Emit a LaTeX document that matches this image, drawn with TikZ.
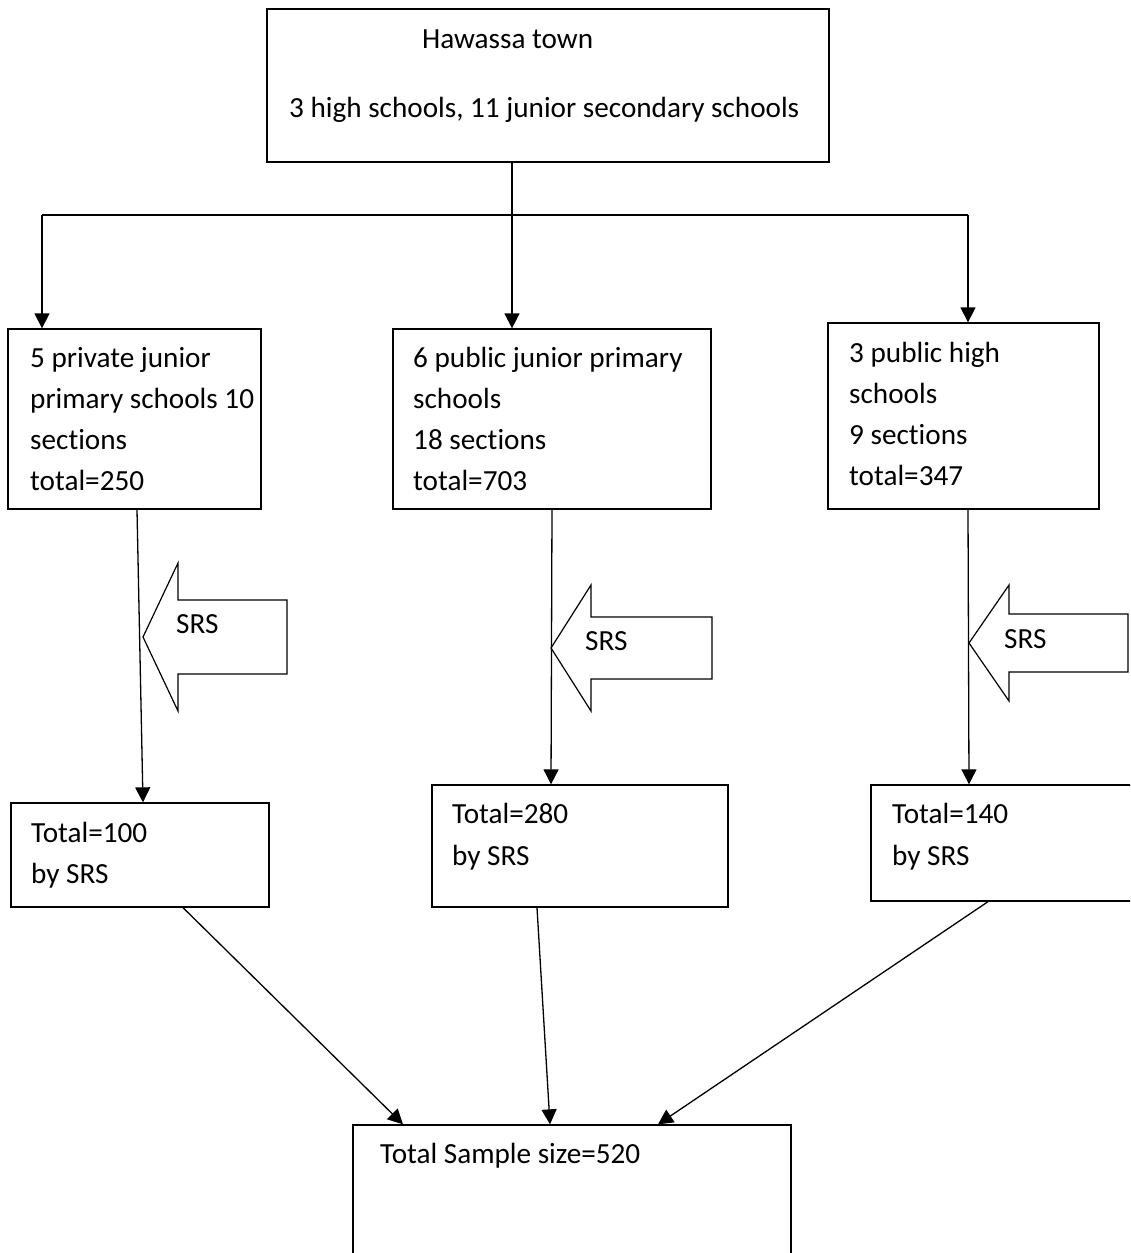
\documentclass[tikz,border=0pt]{standalone}
\usepackage{fontspec}
\setmainfont{Carlito}[Ligatures={NoCommon}]
\usetikzlibrary{arrows.meta}
\begin{document}
\begin{tikzpicture}[x=1pt,y=-1pt,
  box/.style={draw,line width=1.3pt,inner sep=0pt},
  txt/.style={anchor=base west,inner sep=0pt,font=\fontsize{29.2}{34}\selectfont},
  arr/.style={line width=1.3pt,-{Triangle[length=15pt,width=15pt]}},
  con/.style={line width=1.3pt},
  srs/.style={draw,line width=1.2pt,line join=miter}]
\useasboundingbox (0,0) rectangle (1130,1253);
\fill[white] (0,0) rectangle (1130,1253);
\clip (0,0) rectangle (1130,1253);

% boxes
\node[box,minimum width=562pt,minimum height=153pt] (T) at (548,85.5) {};
\node[box,minimum width=253pt,minimum height=180pt] (A) at (134.5,419) {};
\node[box,minimum width=318pt,minimum height=180pt] (B) at (552,419) {};
\node[box,minimum width=271pt,minimum height=186pt] (C) at (963.5,416) {};
\node[box,minimum width=258pt,minimum height=104pt] (A2) at (140,855) {};
\node[box,minimum width=296pt,minimum height=122pt] (B2) at (580,846) {};
\node[box,minimum width=279pt,minimum height=116pt] (C2) at (1010.5,843) {};
\node[box,minimum width=438pt,minimum height=165pt] (S) at (572,1207.5) {};

% texts
\node[txt] (t1) at (422,48) {Hawassa town};
\node[txt] (t2) at (289,117) {3 high schools, 11 junior secondary schools};

\node[txt] (a1) at (30,367) {5 private junior};
\node[txt] (a2) at (30,408) {primary schools 10};
\node[txt] (a3) at (30,449) {sections};
\node[txt] (a4) at (30,490) {total=250};

\node[txt] (b1) at (413,367) {6 public junior primary};
\node[txt] (b2) at (413,408) {schools};
\node[txt] (b3) at (413,449) {18 sections};
\node[txt] (b4) at (413,490) {total=703};

\node[txt] (c1) at (849,362) {3 public high};
\node[txt] (c2) at (849,403) {schools};
\node[txt] (c3) at (849,444) {9 sections};
\node[txt] (c4) at (849,485) {total=347};

\node[txt] (a21) at (31,842) {Total=100};
\node[txt] (a22) at (31,883) {by SRS};
\node[txt] (b21) at (452,823) {Total=280};
\node[txt] (b22) at (452,865) {by SRS};
\node[txt] (c21) at (892,823) {Total=140};
\node[txt] (c22) at (892,865) {by SRS};

\node[txt] (s1) at (380,1163) {Total Sample size=520};

% tree connectors
\coordinate (jm) at (512,215);
\coordinate (jl) at (42,215);
\coordinate (jr) at (968,215);
\draw[con] (jl) -- (jr);
\draw[arr] (T.south -| jm) -- (B.north -| jm);
\draw[arr] (jl) -- (A.north -| jl);
\draw[arr] (jr) -- (C.north -| jr);

% SRS block arrows
\draw[srs] (143,637) -- (178,563) -- (178,600) -- (287,600) -- (287,674) -- (178,674) -- (178,711) -- cycle;
\draw[srs] (551,648) -- (591,585) -- (591,617) -- (712,617) -- (712,679) -- (591,679) -- (591,711) -- cycle;
\draw[srs] (969,643) -- (1009,585) -- (1009,614) -- (1128,614) -- (1128,672) -- (1009,672) -- (1009,701) -- cycle;
\node[txt] (r1) at (176,633) {SRS};
\node[txt] (r2) at (585,650) {SRS};
\node[txt] (r3) at (1004,648) {SRS};

% vertical connectors
\draw[arr] ([xshift=2.5pt]A.south) -- ([xshift=3pt]A2.north);
\draw[arr] (B.south) -- ([xshift=-29pt]B2.north);
\draw[arr] ([xshift=4.5pt]C.south) -- ([xshift=-41.5pt]C2.north);

% to total
\draw[arr] ([xshift=43pt]A2.south) -- ([xshift=-169pt]S.north);
\draw[arr] ([xshift=-43pt]B2.south) -- ([xshift=-22pt]S.north);
\draw[arr] ([xshift=-22.5pt]C2.south) -- ([xshift=86pt]S.north);
\end{tikzpicture}
\end{document}
